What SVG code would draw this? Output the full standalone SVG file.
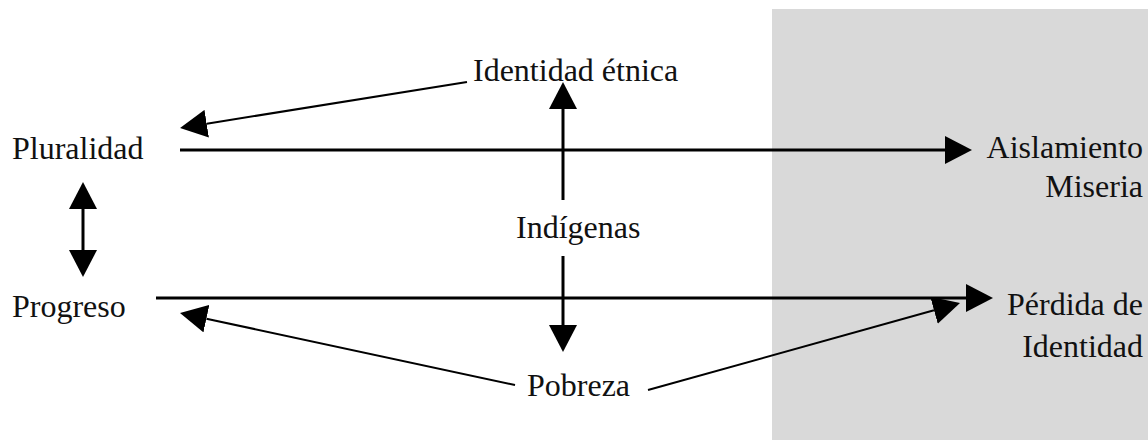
<svg xmlns="http://www.w3.org/2000/svg" width="1148" height="440" viewBox="0 0 1148 440">
  <style>
    text { font-family: "Liberation Serif", "Times New Roman", serif; font-size: 32px; fill: #111; }
    .thick { stroke: #000; stroke-width: 3; fill: none; }
    .thin { stroke: #000; stroke-width: 2; fill: none; }
  </style>
  <defs>
    <marker id="ah" markerUnits="userSpaceOnUse" markerWidth="28" markerHeight="28" refX="0" refY="14" orient="auto-start-reverse">
      <path d="M0,0 L27,14 L0,28 Z" fill="#000"/>
    </marker>
  </defs>
  <rect x="0" y="0" width="1148" height="440" fill="#ffffff"/>
  <rect id="shade" x="772" y="9" width="376" height="431" fill="#d9d9d9"/>

  <g id="connectors">
    <line class="thick" x1="180" y1="150" x2="945" y2="150" marker-end="url(#ah)"/>
    <line class="thick" x1="156" y1="298" x2="966" y2="298" marker-end="url(#ah)"/>
    <line class="thick" x1="563" y1="200" x2="563" y2="109" marker-end="url(#ah)"/>
    <line class="thick" x1="563" y1="256" x2="563" y2="325" marker-end="url(#ah)"/>
    <line class="thick" x1="83" y1="209" x2="83" y2="250" marker-start="url(#ah)" marker-end="url(#ah)"/>
    <line class="thin" x1="467" y1="82" x2="206.7" y2="123.7" marker-end="url(#ah)"/>
    <line class="thin" x1="515" y1="385" x2="206.4" y2="318.7" marker-end="url(#ah)"/>
    <line class="thin" x1="648" y1="390" x2="934" y2="310.3" marker-end="url(#ah)"/>
  </g>

  <g id="pluralidad"><text x="12" y="159">Pluralidad</text></g>
  <g id="progreso"><text x="12" y="317">Progreso</text></g>
  <g id="identidad-etnica"><text x="473" y="81">Identidad étnica</text></g>
  <g id="indigenas"><text x="516" y="238">Indígenas</text></g>
  <g id="pobreza"><text x="527" y="396">Pobreza</text></g>
  <g id="aislamiento"><text x="1143" y="158" text-anchor="end">Aislamiento</text><text x="1143" y="197" text-anchor="end">Miseria</text></g>
  <g id="perdida"><text x="1143" y="315" text-anchor="end">Pérdida de</text><text x="1143" y="357" text-anchor="end">Identidad</text></g>
</svg>
